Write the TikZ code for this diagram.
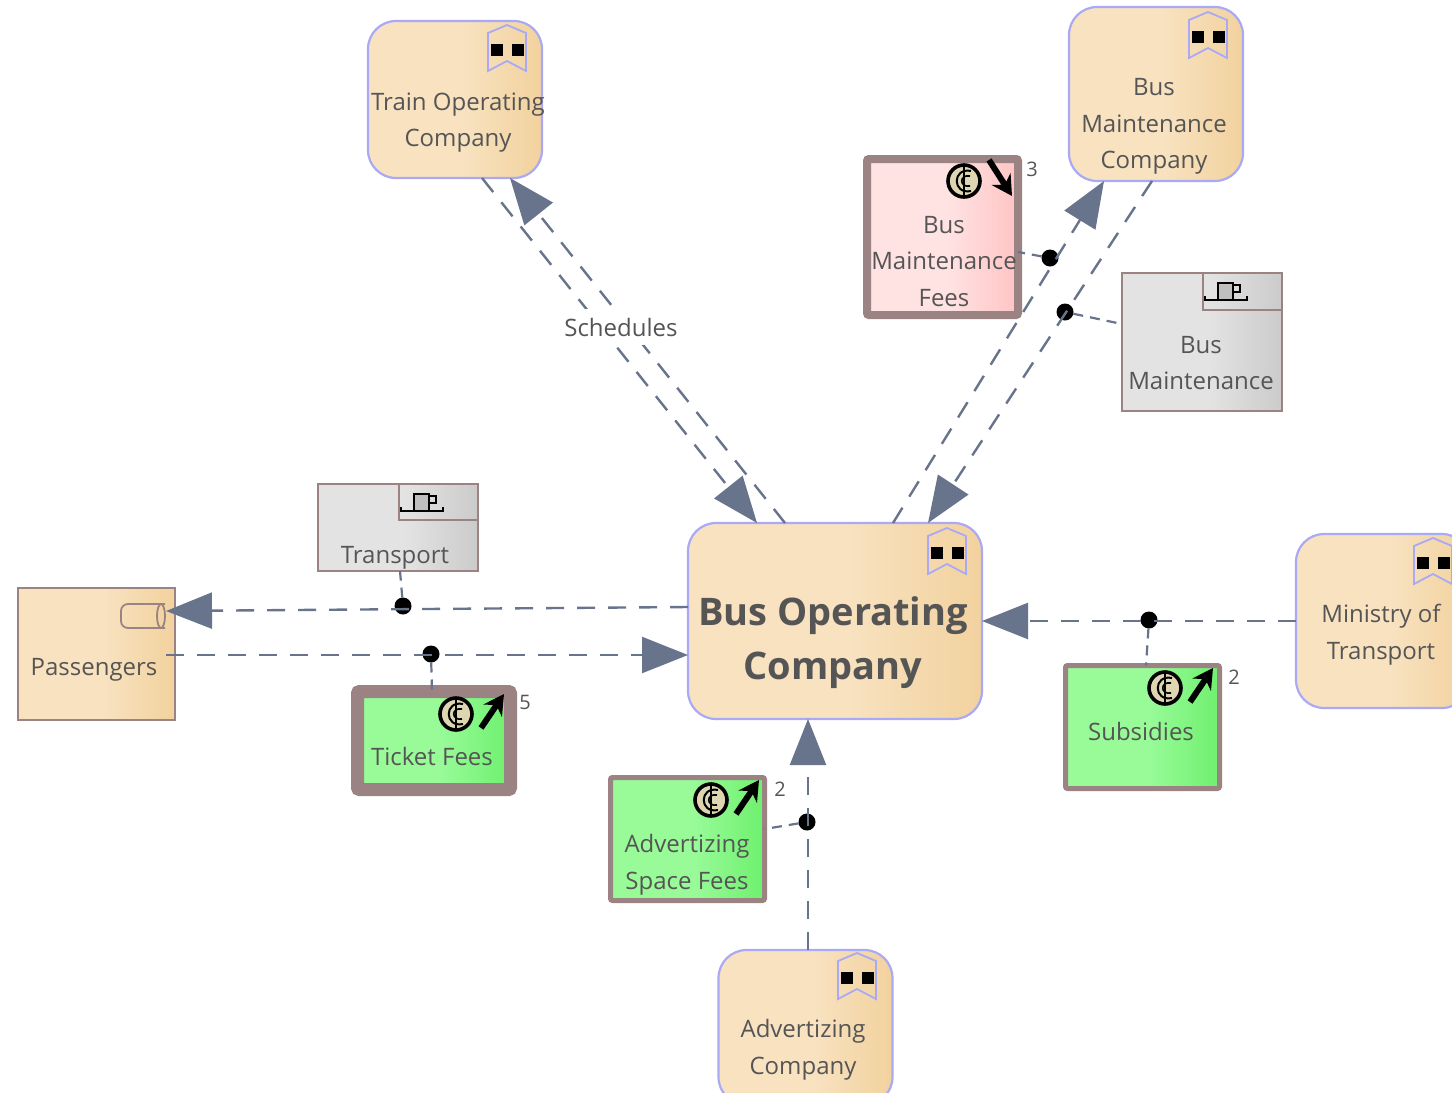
\documentclass[tikz,border=0pt]{standalone}
\usepackage{fontspec}
\setmainfont{Open Sans}
\usetikzlibrary{arrows.meta,calc}
\definecolor{tanA}{HTML}{F8E2C0}
\definecolor{tanB}{HTML}{F2D29E}
\definecolor{greyA}{HTML}{E3E3E3}
\definecolor{greyB}{HTML}{CBCBCB}
\definecolor{greenA}{HTML}{98FB98}
\definecolor{greenB}{HTML}{6EF06E}
\definecolor{pinkA}{HTML}{FFE2E2}
\definecolor{pinkB}{HTML}{FFC4C4}
\definecolor{edgeblue}{HTML}{A9A9F5}
\definecolor{edgebrown}{HTML}{9B8383}
\definecolor{linkcol}{HTML}{68738C}
\definecolor{txt}{HTML}{555555}
\definecolor{coinfill}{HTML}{DDD6B0}
\pgfdeclarehorizontalshading{tanshade}{100bp}{color(0bp)=(tanA); color(52bp)=(tanA); color(75bp)=(tanB); color(100bp)=(tanB)}
\pgfdeclarehorizontalshading{greyshade}{100bp}{color(0bp)=(greyA); color(52bp)=(greyA); color(75bp)=(greyB); color(100bp)=(greyB)}
\pgfdeclarehorizontalshading{greenshade}{100bp}{color(0bp)=(greenA); color(52bp)=(greenA); color(75bp)=(greenB); color(100bp)=(greenB)}
\pgfdeclarehorizontalshading{pinkshade}{100bp}{color(0bp)=(pinkA); color(52bp)=(pinkA); color(75bp)=(pinkB); color(100bp)=(pinkB)}
\tikzset{
  x=1pt,y=-1pt,
  boxbase/.style={rectangle,inner sep=0pt,outer sep=0pt},
  actorbox/.style={boxbase,draw=edgeblue,line width=2.2pt,rounded corners=28pt,shade,shading=tanshade,minimum width=174pt},
  procbox/.style={boxbase,draw=edgebrown,line width=2.2pt,shade,shading=greyshade,minimum width=160pt},
  roletan/.style={boxbase,draw=edgebrown,line width=2.4pt,shade,shading=tanshade,minimum width=157pt},
  flowbox/.style={boxbase,draw=edgebrown,rounded corners=2pt,shade},
  tab/.style={boxbase,draw=edgebrown,line width=2pt},
  lbl/.style={inner sep=0pt,outer sep=0pt,text=txt,align=center,font=\fontsize{24}{36.7}\selectfont},
  biglbl/.style={inner sep=0pt,outer sep=0pt,text=txt,align=center,font=\fontsize{38}{54}\selectfont\bfseries},
  numlbl/.style={inner sep=0pt,outer sep=0pt,text=txt,font=\fontsize{20}{24}\selectfont},
  link/.style={draw=linkcol,line width=2.4pt,dash pattern=on 18pt off 13pt},
  flow/.style={link,-{Triangle[length=46pt,width=36pt,color=linkcol]}},
  tie/.style={draw=linkcol,line width=2.2pt,dash pattern=on 10pt off 7pt},
  dot/.style={circle,fill=black,inner sep=0pt,outer sep=0pt,minimum size=17pt},
  usericon/.pic={
    \draw[edgeblue,line width=1.8pt] (-19,-17) -- (0,-25) -- (19,-17) -- (19,21) -- (0,11) -- (-19,21) -- cycle;
    \fill[black] (-16.5,-6) rectangle (-4.5,6);
    \fill[black] (4.5,-6) rectangle (16.5,6);
  },
  cupicon/.pic={
    \draw[black,line width=2pt,fill=white!75!black] (-8,8) -- (-8,-8) -- (7,-8) -- (7,8);
    \draw[black,line width=2pt] (7,-6) -- (14,-6) -- (14,1) -- (7,1);
    \draw[black,line width=2.6pt] (-21,5) -- (-21,9) -- (21,9) -- (21,5);
  },
  cylicon/.pic={
    \draw[edgebrown,line width=1.8pt,rounded corners=7pt] (22,-12) -- (-22,-12) -- (-22,12) -- (22,12);
    \draw[edgebrown,line width=1.8pt] (18,0) ellipse [x radius=4,y radius=12];
  },
  coinicon/.pic={
    \draw[black,line width=3.6pt,fill=coinfill] (0,0) circle [radius=16];
    \draw[black,line width=2pt] (7,-10) .. controls (-12,-14) and (-12,14) .. (7,10);
    \draw[black,line width=1.6pt] (6,-5) .. controls (-5,-7) and (-5,7) .. (6,5);
    \draw[black,line width=1.6pt] (0,-14) -- (0,14);
  },
  coinup/.pic={
    \pic at (0,0) {coinicon};
    \draw[black,line width=6pt,-{Stealth[length=20pt,width=22pt]}] (25,14) -- (48,-20);
  },
  coindown/.pic={
    \pic at (0,0) {coinicon};
    \draw[black,line width=6pt,-{Stealth[length=20pt,width=22pt]}] (25,-21) -- (48,15);
  },
}
\begin{document}
\begin{tikzpicture}
\clip[use as bounding box] (0,0) rectangle (1452,1093);

% actor boxes
\node[actorbox,minimum height=157pt] (train) at (455,99.5) {};
\node[actorbox,minimum height=174pt] (busco) at (1156,94) {};
\node[actorbox,minimum width=294pt,minimum height=196pt] (boc) at (835,621) {};
\node[actorbox,minimum height=174pt] (ministry) at (1383,621) {};
\node[actorbox,minimum height=155pt] (adv) at (805.5,1027.5) {};
\node[roletan,minimum height=132pt] (pass) at (96.5,654) {};

% process boxes
\node[procbox,minimum height=138pt] (busmaint) at (1202,342) {};
\node[procbox,minimum height=87pt] (transport) at (398,527.5) {};

% flow boxes
\node[flowbox,shading=pinkshade,line width=8pt,minimum width=151pt,minimum height=156pt] (fees) at (942.5,237) {};
\node[flowbox,shading=greenshade,line width=13pt,minimum width=153pt,minimum height=98pt] (ticket) at (434,740.5) {};
\node[flowbox,shading=greenshade,line width=5pt,minimum width=154pt,minimum height=123pt] (adfees) at (687.5,839) {};
\node[flowbox,shading=greenshade,line width=5pt,minimum width=154pt,minimum height=123pt] (subs) at (1142.5,727) {};

% tabs
\node[tab,minimum width=79pt,minimum height=37pt] (tabmaint) at (1242.5,291.5) {};
\node[tab,minimum width=79pt,minimum height=36pt] (tabtrans) at (438.5,502) {};

% connector dots
\node[dot] (d1) at (1050,258) {};
\node[dot] (d2) at (1065,312) {};
\node[dot] (d3) at (403,606) {};
\node[dot] (d4) at (431,654) {};
\node[dot] (d5) at (1149,620) {};
\node[dot] (d6) at (807,822) {};

% flows
\path[flow] ([xshift=27pt]train.south) -- ([xshift=-78pt]boc.north);
\path[flow] ([xshift=-50pt]boc.north) -- ([xshift=55pt]train.south);
\path[flow] ([xshift=58pt]boc.north) -- ([xshift=-52pt]busco.south);
\path[flow] ([xshift=-4pt]busco.south) -- ([xshift=93pt]boc.north);
\path[flow] ([shift={(0,-14)}]boc.west) -- ([shift={(-9,-43)}]pass.east);
\path[flow] ([shift={(-9,1)}]pass.east) -- ([shift={(0,34)}]boc.west);
\path[flow] (ministry.west) -- (boc.east);
\path[flow] ([xshift=2.5pt]adv.north) -- ([xshift=-27pt]boc.south);

% ties
\path[tie] (d1) -- ([shift={(0,15)}]fees.east);
\path[tie] (d2) -- ([shift={(0,-18)}]busmaint.west);
\path[tie] (d3) -- ([xshift=2pt]transport.south);
\path[tie] (d4) -- ([xshift=-2pt]ticket.north);
\path[tie] (d5) -- ([xshift=3.5pt]subs.north);
\path[tie] (d6) -- ([shift={(0,-10)}]adfees.east);

% edge label
\node[lbl,fill=white,inner sep=4pt,minimum width=118pt,minimum height=36pt] (sched) at (621,327) {Schedules};

% box labels
\node[lbl] (ttrain) at (458,122.5) {Train Operating\\Company};
\node[lbl] (tbusco) at (1154,126.5) {Bus\\Maintenance\\Company};
\node[biglbl] (tboc) at (833,643) {Bus Operating\\Company};
\node[lbl] (tministry) at (1381,635) {Ministry of\\Transport};
\node[lbl] (tadv) at (803,1050) {Advertizing\\Company};
\node[lbl] (tpass) at (94,670) {Passengers};
\node[lbl] (tmaint) at (1201,363) {Bus\\Maintenance};
\node[lbl] (ttransport) at (395,558) {Transport};
\node[lbl] (tfees) at (944,261.5) {Bus\\Maintenance\\Fees};
\node[lbl] (tticket) at (432,756.5) {Ticket Fees};
\node[lbl] (tadfees) at (687,865) {Advertizing\\Space Fees};
\node[lbl] (tsubs) at (1141,731.5) {Subsidies};

% numbers
\node[numlbl] (n3) at (1032,169) {3};
\node[numlbl] (n5) at (525,702) {5};
\node[numlbl] (n2a) at (780,789) {2};
\node[numlbl] (n2b) at (1234,677) {2};

% icons
\pic at (507,50) {usericon};
\pic at (1208,37) {usericon};
\pic at (947,553) {usericon};
\pic at (1433,563) {usericon};
\pic at (857,978) {usericon};
\pic at (1226,291) {cupicon};
\pic at (422,502) {cupicon};
\pic at (143,616) {cylicon};
\pic at (964,181) {coindown};
\pic at (456,714) {coinup};
\pic at (711,800) {coinup};
\pic at (1165,688) {coinup};
\end{tikzpicture}
\end{document}
